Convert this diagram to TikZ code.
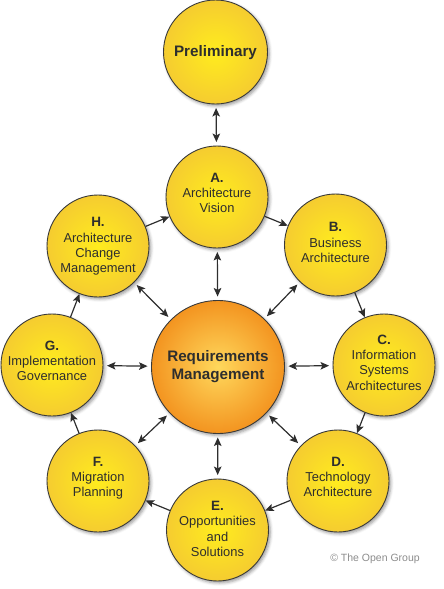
\documentclass[tikz,border=0pt]{standalone}
\usepackage{fontspec}
\setmainfont{Liberation Sans}
\usetikzlibrary{arrows.meta,shadows.blur}
\definecolor{ink}{HTML}{2E2E2E}
\definecolor{rim}{HTML}{3A3A3A}
\definecolor{yin}{RGB}{255,236,30}
\definecolor{yout}{RGB}{245,204,48}
\definecolor{oin}{RGB}{255,216,92}
\definecolor{oout}{RGB}{243,148,32}
\definecolor{copyc}{HTML}{8C8C8C}
\newcommand\phasehd[1]{{\fontsize{13.5}{15.3}\selectfont\bfseries #1}}
\tikzset{
  disc/.style={circle, draw=rim, line width=0.9pt, inner sep=0pt, minimum size=102pt,
    shading=radial, inner color=yin, outer color=yout,
    blur shadow={shadow xshift=1.8pt, shadow yshift=-2pt, shadow blur radius=3pt, shadow opacity=40}},
  core/.style={disc, minimum size=133pt, inner color=oin, outer color=oout},
  lbl/.style={align=center, text=ink, inner sep=0pt, font=\fontsize{12.9}{15.3}\selectfont},
  biglbl/.style={align=center, text=ink, inner sep=0pt, font=\fontsize{15.2}{18.3}\selectfont\bfseries},
  tip/.tip={Stealth[length=8.5pt,width=7.5pt,inset=1.8pt]},
  conn/.style={draw=ink, line width=1.2pt},
  spoke/.style={conn, tip-tip, shorten <=3.5pt, shorten >=3.5pt},
  cyc/.style={conn, -tip}
}
\begin{document}
\begin{tikzpicture}[x=1pt,y=-1pt]
\useasboundingbox (0,0) rectangle (444,589);
% circles
\node[disc, minimum size=104pt] (P) at (215.5,52) {};
\node[disc] (A) at (217,197) {};
\node[disc] (B) at (335.5,245) {};
\node[disc] (C) at (384,365) {};
\node[disc] (D) at (338,481) {};
\node[disc] (E) at (217.5,530) {};
\node[disc] (F) at (98,481) {};
\node[disc] (G) at (52,365) {};
\node[disc] (H) at (98,246) {};
\node[core] (RM) at (218,367) {};
% labels
\node[biglbl] (Pt) at (215.5,53) {Preliminary};
\node[lbl] (At) at (217,193) {\phasehd{A.}\\Architecture\\Vision};
\node[lbl] (Bt) at (335.5,242.5) {\phasehd{B.}\\Business\\Architecture};
\node[lbl] (Ct) at (384,362.5) {\phasehd{C.}\\Information\\Systems\\Architectures};
\node[lbl] (Dt) at (338,477) {\phasehd{D.}\\Technology\\Architecture};
\node[lbl] (Et) at (217.5,529) {\phasehd{E.}\\Opportunities\\and\\Solutions};
\node[lbl] (Ft) at (98,478) {\phasehd{F.}\\Migration\\Planning};
\node[lbl] (Gt) at (52,361) {\phasehd{G.}\\Implementation\\Governance};
\node[lbl] (Ht) at (98,246.5) {\phasehd{H.}\\Architecture\\Change\\Management};
\node[biglbl] (RMt) at (218,366.5) {Requirements\\Management};
% spokes
\draw[spoke] (P) -- (A);
\foreach \n in {A,B,C,D,E,F,G,H} { \draw[spoke] (\n) -- (RM); }
% cycle
\draw[cyc] (H) -- (A);
\draw[cyc] (A) -- (B);
\draw[cyc] (B) -- (C);
\draw[cyc] (C) -- (D);
\draw[cyc] (D) -- (E);
\draw[cyc] (E) -- (F);
\draw[cyc] (F) -- (G);
\draw[cyc] (G) -- (H);
% copyright
\node[font=\fontsize{10.5}{12}\selectfont, text=copyc, anchor=base, inner sep=0pt] (cr) at (375,561) {© The Open Group};
\end{tikzpicture}
\end{document}
